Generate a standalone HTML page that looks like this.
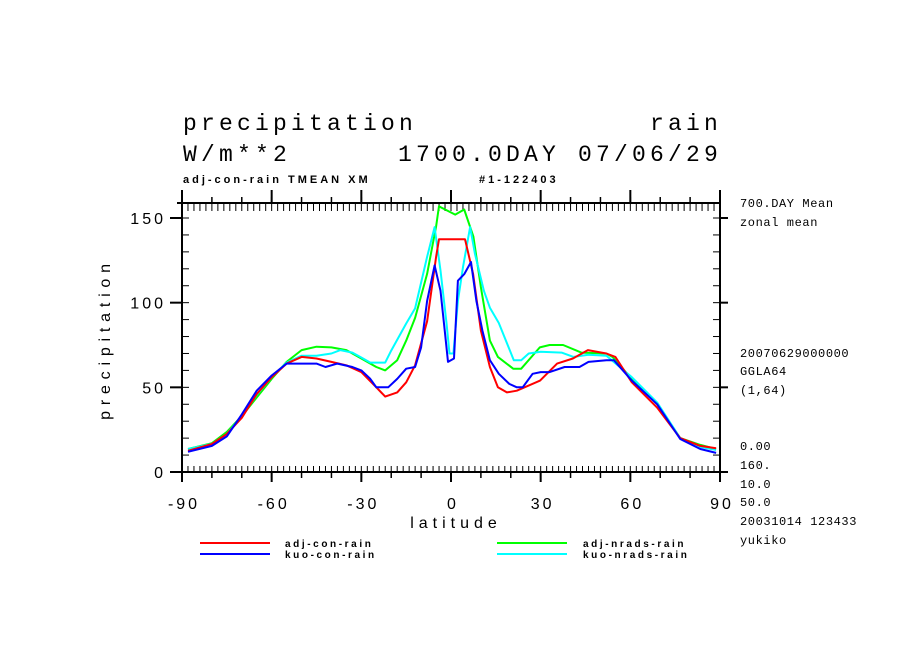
<!DOCTYPE html>
<html><head><meta charset="utf-8"><style>
html,body{margin:0;padding:0;background:#fff;}
svg{display:block;}
text{font-family:"Liberation Sans",sans-serif;fill:#000;}
.big{font-family:"Liberation Mono",monospace;font-size:23px;letter-spacing:4.2px;}
.sm{font-family:"Liberation Sans",sans-serif;font-size:11px;font-weight:bold;letter-spacing:3px;}
.lg{font-family:"Liberation Sans",sans-serif;font-size:10px;font-weight:bold;letter-spacing:2.6px;}
.rt{font-family:"Liberation Mono",monospace;font-size:12px;letter-spacing:0.6px;}
.tk{font-family:"Liberation Sans",sans-serif;font-size:16px;letter-spacing:3px;}
.at{font-family:"Liberation Sans",sans-serif;font-size:16px;letter-spacing:5px;}
.yt{font-family:"Liberation Sans",sans-serif;font-size:16px;letter-spacing:5.8px;}
</style></head><body>
<svg id="chart" width="904" height="654" viewBox="0 0 904 654">
<text class="big" x="183" y="130">precipitation</text>
<text class="big" x="722" y="130" text-anchor="end">rain</text>
<text class="big" x="183" y="161">W/m**2</text>
<text class="big" x="722" y="161" text-anchor="end">1700.0DAY 07/06/29</text>
<text class="sm" x="183" y="183">adj-con-rain TMEAN XM</text>
<text class="sm" x="479" y="183">#1-122403</text>
<g>
<text class="rt" x="740" y="207">700.DAY Mean</text>
<text class="rt" x="740" y="226">zonal mean</text>
<text class="rt" x="740" y="357">20070629000000</text>
<text class="rt" x="740" y="375">GGLA64</text>
<text class="rt" x="740" y="394">(1,64)</text>
<text class="rt" x="740" y="450">0.00</text>
<text class="rt" x="740" y="469">160.</text>
<text class="rt" x="740" y="488">10.0</text>
<text class="rt" x="740" y="506">50.0</text>
<text class="rt" x="740" y="525">20031014 123433</text>
<text class="rt" x="740" y="544">yukiko</text>
</g>
<g id="axes"></g>
<g id="series"></g>
<text class="at" x="456" y="528" text-anchor="middle">latitude</text>
<text class="yt" transform="translate(110,339) rotate(-90)" text-anchor="middle">precipitation</text>
<g>
<line x1="200" y1="543" x2="270" y2="543" stroke="#f00" stroke-width="2"/>
<text class="lg" x="285" y="547">adj-con-rain</text>
<line x1="497" y1="543" x2="567" y2="543" stroke="#0f0" stroke-width="2"/>
<text class="lg" x="583" y="547">adj-nrads-rain</text>
<line x1="200" y1="554" x2="270" y2="554" stroke="#00f" stroke-width="2"/>
<text class="lg" x="285" y="558">kuo-con-rain</text>
<line x1="497" y1="554" x2="567" y2="554" stroke="#0ff" stroke-width="2"/>
<text class="lg" x="583" y="558">kuo-nrads-rain</text>
</g>
</svg>
<script>
const xTicks = [-90,-60,-30,0,30,60,90];
const yTicks = [0,50,100,150];
const redLat = [-88,-80,-75,-70,-65,-60,-55,-50,-45,-40,-35,-30,-25,-22,-18,-15,-12,-8,-5,-4,4.7,7.4,10,13,15.7,18.7,22,29.8,35.5,40.8,45.8,52,55,60.5,69,76.7,83.4,88.7];
const redVal = [12.5,16.6,22.5,32,46,56,64,68,67,65,63,59,50,44.5,47,53,63,89,127,137.5,137.5,117,83.5,62,50,47,48,54,64,67,72,70,68,53,38,20,15.4,14];
const greenLat = [-88,-80,-75,-70,-65,-60,-55,-50,-45,-40,-35,-30,-25,-22,-18,-15,-12,-8,-5,-4,-3.6,1.4,4.4,7.5,10,13,15.7,20.8,23.5,29.7,33,37.5,43.6,52,54,60.5,69,76.7,83.4,88.7];
const greenVal = [13.6,17,23.7,33,44,55,65,72,74,73.6,72,67,62,60,66,77.6,91,117,145,157,156.5,152,155,139,109,77.6,68,61,61,73.6,75,75,70.5,70,68,55,40,20,16,13.6];
const blueLat = [-88,-80,-75,-70,-65,-60,-55,-50,-45,-42,-38,-33,-30,-27,-25,-21,-18,-15,-12,-10,-8,-5.5,-3.5,-2,-1,1,2.3,4.5,6.7,8.5,10.5,13,16,19.5,22,24,27.3,30,33,38,43,46,52,54.5,60.5,69,76.7,83.4,88.7];
const blueVal = [11.9,15.4,21,34,48,57,64,64,64,62,64,62,60,55,50,50,55,61,62,73.6,101,122,107,82,65,67,113,117,124,101,83.5,66,58,52,50,50,58,59,59,62,62,65,66,66,54,40,19.5,13.6,11.3];
const cyanLat = [-88,-80,-75,-70,-65,-60,-55,-50,-45,-40,-37,-33,-30,-27,-25,-22,-20,-15,-12,-8,-5.5,-3.5,-1.5,-0.5,0.8,2.3,4,6.4,8,11,13,16,21,23.5,26,30,37,41,46,52,60.5,69,76.7,83.4,88.7];
const cyanVal = [13.6,16.6,22.5,33,45.6,56,64.6,68.7,68.7,70,72,70.5,67.6,64.6,64.6,64.6,71.7,87.7,96.6,127,144.6,119,88,70,70,101,121,144.6,129,107,97,88,66,66,70,71,70.5,68,69.3,68.7,56,41,20,14.8,13];

const X0=182,X1=720,Y0=472,Y1=203,VMAX=(472-218)/150;
function xs(l){return X0+(l+90)*(X1-X0)/180;}
function ys(v){return Y0-v*VMAX;}
const NS='http://www.w3.org/2000/svg';
const ax=document.getElementById('axes');
function ln(x1,y1,x2,y2,w,name){
  const l=document.createElementNS(NS,'line');
  l.setAttribute('x1',x1);l.setAttribute('y1',y1);l.setAttribute('x2',x2);l.setAttribute('y2',y2);
  l.setAttribute('stroke','#000');l.setAttribute('stroke-width',w||2);
  
  
  ax.appendChild(l);return l;
}
ln(X0-5,Y1,X1,Y1,2,'frame-top');
ln(X0-5,Y0,X1,Y0,2,'frame-bottom');
ln(X0,Y1,X0,Y0+9,2,'frame-left');
ln(X1,Y1-12,X1,Y0+9,2,'frame-right');
for(let l=-90;l<=90;l+=2){
  const x=xs(l);
  ln(x,Y1,x,Y1+8,1,'x-minor-tick');
  ln(x,Y0,x,Y0-6,1,'x-minor-tick');
}
for(let l=-90;l<=90;l+=10){
  const x=xs(l);
  ln(x,Y1,x,Y1-6,1.5,'x-mid-tick');
  ln(x,Y0,x,Y0+6,1.5,'x-mid-tick');
}
xTicks.forEach(l=>{
  const x=xs(l);
  ln(x,Y1,x,Y1-13,2,'x-major-tick');
  ln(x,Y0,x,Y0+10,2,'x-major-tick');
  const t=document.createElementNS(NS,'text');
  t.setAttribute('class','tk');t.setAttribute('x',x+2);t.setAttribute('y',509);t.setAttribute('text-anchor','middle');
  t.textContent=l;
  
  
  ax.appendChild(t);
});
for(let v=0;v<=155;v+=10){
  const y=ys(v);
  ln(X0,y,X0+7,y,1,'y-minor-tick');
  ln(X1,y,X1-7,y,1,'y-minor-tick');
}
yTicks.forEach(v=>{
  const y=ys(v);
  ln(X0-12,y,X0,y,2,'y-major-tick');
  ln(X1,y,X1+8,y,2,'y-major-tick');
  const t=document.createElementNS(NS,'text');
  t.setAttribute('class','tk');t.setAttribute('x',166);t.setAttribute('y',y+6);t.setAttribute('text-anchor','end');
  t.textContent=v;
  
  
  ax.appendChild(t);
});
const sg=document.getElementById('series');
function series(lat,val,col,name){
  const p=document.createElementNS(NS,'polyline');
  p.setAttribute('points',lat.map((l,i)=>xs(l).toFixed(1)+','+ys(val[i]).toFixed(1)).join(' '));
  p.setAttribute('fill','none');p.setAttribute('stroke',col);p.setAttribute('stroke-width',2);
  p.setAttribute('stroke-linejoin','round');
  
  
  sg.appendChild(p);
}
series(greenLat,greenVal,'#0f0','line-adj-nrads-rain');
series(cyanLat,cyanVal,'#0ff','line-kuo-nrads-rain');
series(redLat,redVal,'#f00','line-adj-con-rain');
series(blueLat,blueVal,'#00f','line-kuo-con-rain');
</script>
</body></html>
